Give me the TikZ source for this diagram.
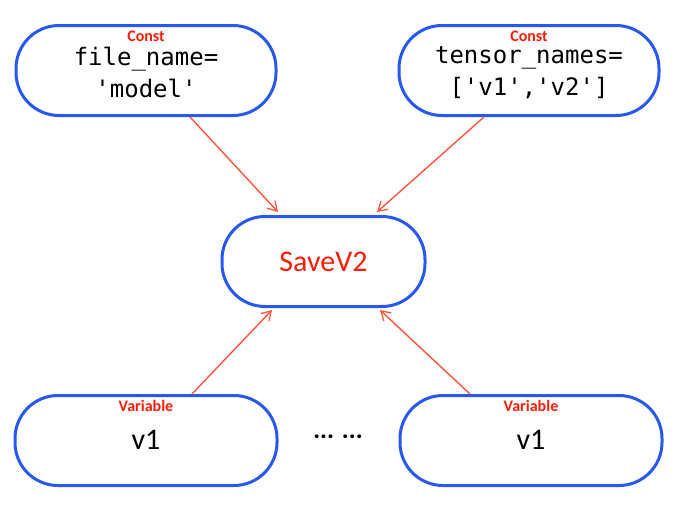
\documentclass[tikz,border=0pt]{standalone}
\usepackage{fontspec}
\setmainfont{Carlito}
\newfontfamily\monof{DejaVu Sans Mono}
\usetikzlibrary{arrows.meta}
\definecolor{boxblue}{RGB}{40,88,240}
\definecolor{arrred}{RGB}{255,85,60}
\definecolor{labred}{RGB}{250,30,10}
\tikzset{
  opbox/.style={draw=boxblue, line width=3pt, rounded corners=43pt, minimum width=260pt, minimum height=90pt, fill=white, inner sep=0pt},
  optag/.style={text=labred, font=\fontsize{16}{16}\selectfont\bfseries, inner sep=0pt},
  montext/.style={font=\monof\fontsize{24}{32}\selectfont, align=center, inner sep=0pt},
  bigtext/.style={font=\fontsize{30}{30}\selectfont, inner sep=0pt},
  arr/.style={draw=arrred, line width=1.4pt, -{Straight Barb[length=9pt,width=11pt,line width=1.3pt]}}
}
\begin{document}
\begin{tikzpicture}[x=1pt,y=-1pt]
\useasboundingbox (0,0) rectangle (678,506);
\node[opbox] (tl) at (146,70.5) {};
\node[opbox] (tr) at (529,70.5) {};
\node[opbox, minimum width=203pt] (sv) at (323.5,261.5) {};
\node[opbox, minimum width=262pt] (bl) at (146,440.5) {};
\node[opbox, minimum width=262pt] (br) at (531,440.5) {};
\node[optag] (tlt) at (146,36) {Const};
\node[optag] (trt) at (529,36) {Const};
\node[optag] (blt) at (146,406) {Variable};
\node[optag] (brt) at (531,406) {Variable};
\node[montext] (tlx) at (146,72.5) {file\_name=\\'model'};
\node[montext] (trx) at (529,72.5) {tensor\_names=\\\relax['v1','v2']};
\node[bigtext, text=labred] (svx) at (323.5,262) {SaveV2};
\node[bigtext] (blx) at (146,440) {v1};
\node[bigtext] (brx) at (531,440) {v1};
\node[font=\fontsize{26}{26}\selectfont\bfseries, inner sep=0pt] (dots) at (338,437) {... ...};
\draw[arr] ([xshift=44pt]tl.south) -- ([xshift=-45.5pt,yshift=3pt]sv.north);
\draw[arr] ([xshift=-45pt]tr.south) -- ([xshift=53.5pt,yshift=3pt]sv.north);
\draw[arr] ([xshift=46pt]bl.north) -- ([xshift=-51.5pt,yshift=-2pt]sv.south);
\draw[arr] ([xshift=-61pt]br.north) -- ([xshift=56.5pt,yshift=-2pt]sv.south);
\end{tikzpicture}
\end{document}
